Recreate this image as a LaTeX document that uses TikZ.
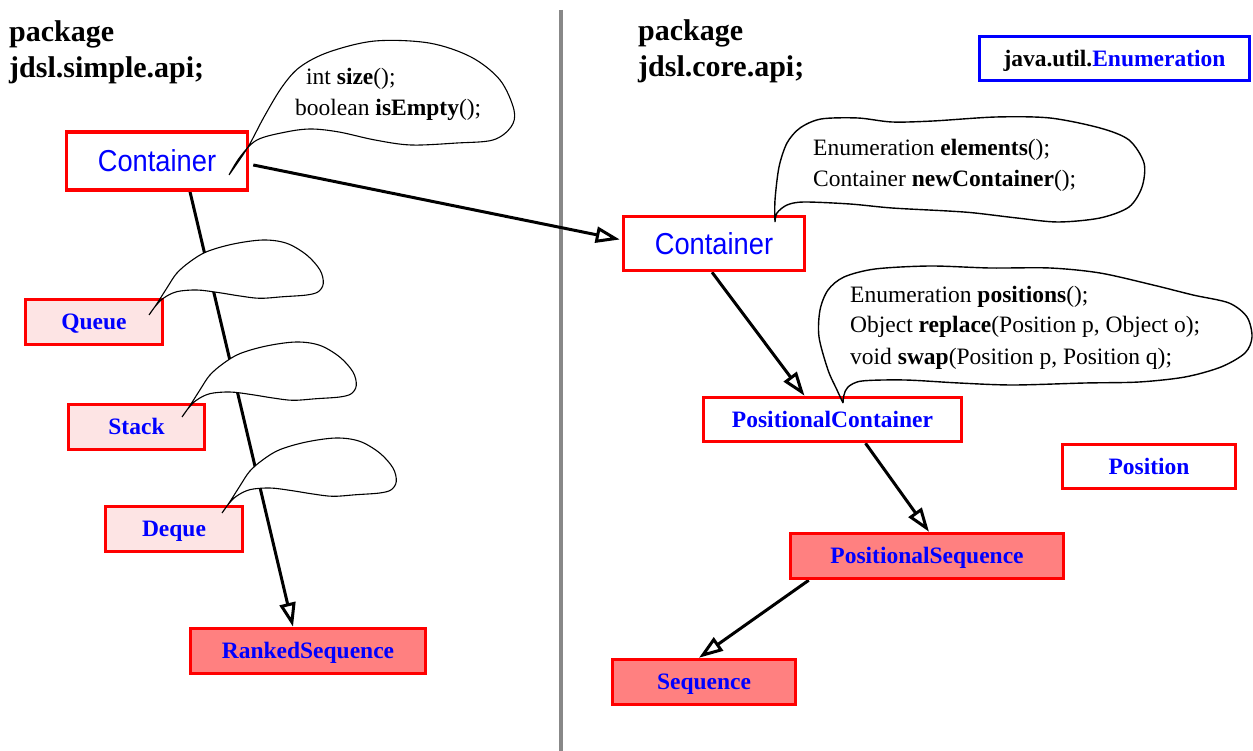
\documentclass[tikz,border=0pt]{standalone}
\usepackage{fontspec}
\setmainfont{Liberation Serif}
\newfontfamily\narrowsans{Liberation Sans}[FakeStretch=0.9]
\usetikzlibrary{arrows.meta}

\pgfdeclarelayer{back}
\pgfdeclarelayer{bubbles}
\pgfdeclarelayer{front}
\pgfsetlayers{back,bubbles,main,front}

\definecolor{boxred}{RGB}{255,0,0}
\definecolor{labelblue}{RGB}{0,0,255}
\definecolor{lightpink}{RGB}{253,228,228}
\definecolor{salmon}{RGB}{255,128,128}
\definecolor{dividergray}{RGB}{136,136,136}

% outline of the three small, empty speech bubbles (tip at the origin)
\newcommand\smallbubble{plot[smooth, tension=0.55] coordinates {
  (0,0) (7.7,-11) (17.7,-26.7) (27.7,-41.7) (41,-53.3) (57.7,-63.3)
  (84.3,-71) (114.3,-75) (137.7,-71.7) (157.7,-60) (171,-45) (174.3,-31.7)
  (169.3,-23.3) (157.7,-20) (134.3,-18.3) (111,-16.7) (91,-19) (67.7,-22.7)
  (47.7,-25) (27.7,-23.3) (14.3,-16.7) (6,-8.3) (0,0)}}

% bubble on the simple Container
\newcommand\sizebubble{plot[smooth, tension=0.55] coordinates {
  (229,175) (248,147) (264,117) (282,87) (300,67) (329,52) (375,41)
  (429,43) (471,57) (500,80) (514,110) (511,127) (493,140) (457,143)
  (411,145) (375,140) (339,132) (311,129) (286,132) (257,140) (240,157) (229,175)}}

% bubble on the core Container
\newcommand\elembubble{plot[smooth, tension=0.5] coordinates {
  (775,222) (775,200) (779,167) (787,143) (800,128) (821,119) (858,118)
  (892,122) (933,121) (996,117) (1050,118) (1100,128) (1129,140) (1144,163)
  (1142,187) (1129,207) (1100,218) (1058,222) (1017,218) (975,213) (948,211)
  (892,208) (850,204) (804,202) (787,205) (777,213) (775,222)}}

% bubble on PositionalContainer
\newcommand\posbubble{plot[smooth, tension=0.5] coordinates {
  (843,403) (837,390) (828,370) (819,337) (820,310) (828,290) (844,277)
  (875,269) (930,266) (990,268) (1050,268) (1100,273) (1153,285) (1193,295)
  (1229,303) (1247,317) (1252,337) (1245,353) (1221,367) (1185,377)
  (1139,382) (1085,383) (1013,385) (959,383) (905,380) (862,381) (848,387)
  (844,395) (843,403)}}

\tikzset{
  heading/.style={anchor=base west, inner sep=0pt,
    font=\fontsize{30}{36}\selectfont\bfseries},
  classbox/.style={draw=boxred, line width=3.5pt, fill=white, inner sep=0pt,
    text=labelblue, text height=15.5pt, text depth=0pt,
    font=\fontsize{23.5}{28}\selectfont\bfseries},
  sansbox/.style={classbox, text height=21.7pt,
    font=\narrowsans\fontsize{30.3}{36}\selectfont},
  iface/.style={classbox, fill=lightpink},
  seqbox/.style={classbox, fill=salmon},
  javabox/.style={classbox, draw=labelblue, text=black},
  calltext/.style={anchor=base west, inner sep=0pt,
    font=\fontsize{23.5}{30}\selectfont},
  extends/.style={line width=3pt,
    -{Triangle[open, length=24pt, width=16pt]}},
  bubblefill/.style={fill=white},
  bubbleline/.style={draw=black, line width=1.1pt},
}

\begin{document}
\begin{tikzpicture}[x=1pt, y=-1pt]
\useasboundingbox (0,0) rectangle (1253,751);

% package headings
\node[heading] (simplepkg) at (9,42) {package};
\node[heading] (simplename) at (9,78) {jdsl.simple.api;};
\node[heading] (corepkg) at (638,41) {package};
\node[heading] (corename) at (638,77) {jdsl.core.api;};

% classes of jdsl.simple.api
\node[sansbox, minimum width=181pt, minimum height=58pt] (lc) at (157,161) {Container};
\node[iface, minimum width=137pt, minimum height=45pt] (queue) at (94,322) {Queue};
\node[iface, minimum width=136pt, minimum height=45pt] (stack) at (136.5,427) {Stack};
\node[iface, minimum width=137pt, minimum height=45pt] (deque) at (174,529) {Deque};
\node[seqbox, minimum width=235pt, minimum height=45pt] (ranked) at (308,651) {RankedSequence};

% classes of jdsl.core.api
\node[javabox, minimum width=270pt, minimum height=44pt] (enum) at (1114.5,58.5)
  {java.util.\textcolor{labelblue}{Enumeration}};
\node[sansbox, minimum width=181pt, minimum height=54pt] (rc) at (714,243.5) {Container};
\node[classbox, minimum width=258pt, minimum height=44pt] (pc) at (832.5,419.5) {PositionalContainer};
\node[classbox, minimum width=173pt, minimum height=44pt] (pos) at (1149,466.5) {Position};
\node[seqbox, minimum width=273pt, minimum height=45pt] (ps) at (927,556) {PositionalSequence};
\node[seqbox, minimum width=183pt, minimum height=45pt] (seq) at (704,682) {Sequence};

% divider and inheritance arrows
\begin{pgfonlayer}{back}
  \draw[dividergray, line width=4.5pt] (561,10) -- (561,751);
  \draw[extends] ([xshift=33pt]lc.south) -- ([xshift=-15pt]ranked.north);
  \draw[extends] ([xshift=4pt, yshift=-4pt]lc.east) -- ([xshift=-2pt, yshift=4pt]rc.west);
  \draw[extends] ([xshift=-2pt]rc.south) -- ([xshift=-28pt]pc.north);
  \draw[extends] ([xshift=33pt]pc.south) -- ([xshift=2pt]ps.north);
  \draw[extends] ([xshift=20pt]ps.south west) -- ([xshift=-5pt]seq.north);
\end{pgfonlayer}

% speech bubbles: white bodies below the boxes
\begin{pgfonlayer}{bubbles}
  \path[bubblefill] \sizebubble -- cycle;
  \path[bubblefill, shift={(149,315)}] \smallbubble -- cycle;
  \path[bubblefill, shift={(182,417)}] \smallbubble -- cycle;
  \path[bubblefill, shift={(222,513)}] \smallbubble -- cycle;
  \path[bubblefill] \elembubble -- cycle;
  \path[bubblefill] \posbubble -- cycle;
\end{pgfonlayer}

% speech bubble outlines and method lists
\begin{pgfonlayer}{front}
  \path[bubbleline] \sizebubble;
  \path[bubbleline, shift={(149,315)}] \smallbubble;
  \path[bubbleline, shift={(182,417)}] \smallbubble;
  \path[bubbleline, shift={(222,513)}] \smallbubble;
  \path[bubbleline, line width=1.4pt] \elembubble;
  \path[bubbleline, line width=1.4pt] \posbubble;

  \node[calltext] (sizeop) at (306,85) {int \textbf{size}();};
  \node[calltext] (emptyop) at (295,116) {boolean \textbf{isEmpty}();};
  \node[calltext] (elemop) at (813,156) {Enumeration \textbf{elements}();};
  \node[calltext] (newop) at (813,187) {Container \textbf{newContainer}();};
  \node[calltext] (posop) at (850,303) {Enumeration \textbf{positions}();};
  \node[calltext] (replop) at (850,333) {Object \textbf{replace}(Position p, Object o);};
  \node[calltext] (swapop) at (850,364) {void \textbf{swap}(Position p, Position q);};
\end{pgfonlayer}
\end{tikzpicture}
\end{document}
